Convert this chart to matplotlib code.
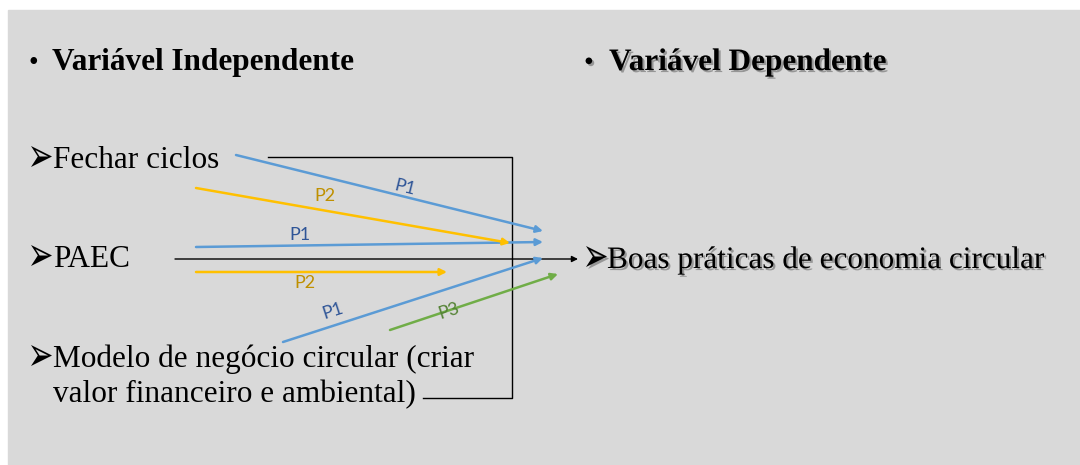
import matplotlib
matplotlib.use('Agg')
import matplotlib.pyplot as plt
from matplotlib.patches import Rectangle, PathPatch
from matplotlib.textpath import TextPath
from matplotlib.font_manager import FontProperties
from matplotlib.transforms import Affine2D
import matplotlib.patheffects as pe

# ── Diagram content ───────────────────────────────────────
HEAD_LEFT   = 'Variável Independente'
HEAD_RIGHT  = 'Variável Dependente'
INDEP_VARS  = ['Fechar ciclos', 'PAEC',
               'Modelo de negócio circular (criar',
               'valor financeiro e ambiental)']
INDEP_MARK  = [True, True, True, False]
DEP_VAR     = 'Boas práticas de economia circular'

# arrows: (x0, y0, x1, y1) in pixel space of the 1080x465 slide
BLUE_ARROWS   = [(236, 155, 543, 231), (196, 247, 543, 242), (283, 342, 543, 258)]
YELLOW_ARROWS = [(196, 188, 510, 243), (196, 272, 447, 272)]
GREEN_ARROWS  = [(390, 330, 558, 274)]
MAIN_ARROW    = (175, 259, 578, 259)
BRACKET_X     = [268, 512, 512, 423]
BRACKET_Y     = [157, 157, 398, 398]

# path labels: (text, x, y, rotation)
BLUE_LABELS   = [('P1', 405, 188, -14), ('P1', 300, 235, 0), ('P1', 333, 311, 18)]
YELLOW_LABELS = [('P2', 325, 196, 0), ('P2', 305, 283, 0)]
GREEN_LABELS  = [('P3', 449, 311, 18)]

BG      = '#d9d9d9'
BLUE    = '#5b9bd5'
YELLOW  = '#ffc000'
GREEN   = '#70ad47'
BLUE_T  = '#2f5597'
YELLOW_T = '#bf9000'
GREEN_T = '#548235'

SERIF = ['Liberation Serif', 'DejaVu Sans']
SANS  = ['Lato', 'DejaVu Sans']
FS    = 22.5


def arrow(ax, seg, color, lw=1.8, ms=10):
    x0, y0, x1, y1 = seg
    ax.annotate('', xy=(x1, y1), xytext=(x0, y0),
                arrowprops=dict(arrowstyle='-|>', color=color, lw=lw,
                                mutation_scale=ms, shrinkA=0, shrinkB=0))


def marker(ax, x, y, w=21, h=21, **kw):
    # Wingdings-like arrowhead bullet, stretched into a w x h box
    tp = TextPath((0, 0), '➢', size=1, prop=FontProperties(family='DejaVu Sans'))
    ext = tp.get_extents()
    tr = (Affine2D().translate(-ext.x0, -ext.y0)
          .scale(w / ext.width, -h / ext.height).translate(x, y))
    ax.add_patch(PathPatch(tr.transform_path(tp), color='black', lw=0, **kw))


def main():
    fig = plt.figure(figsize=(10.8, 4.65), dpi=100)
    ax = fig.add_axes([0, 0, 1, 1])
    ax.set_xlim(0, 1080)
    ax.set_ylim(465, 0)
    ax.axis('off')
    fig.patch.set_facecolor('white')

    ax.add_patch(Rectangle((8, 10), 1072, 455, color=BG, zorder=0))

    shadow = [pe.withSimplePatchShadow(offset=(1.5, -1.5),
                                       shadow_rgbFace='#555555', alpha=0.5)]

    # headings
    ax.text(28, 70, '•', family=SERIF, fontsize=20, va='baseline')
    ax.text(52, 70, HEAD_LEFT, family=SERIF, fontsize=FS, fontweight='bold',
            va='baseline')
    ax.text(584, 70, '•', family=SERIF, fontsize=20, va='baseline',
            path_effects=shadow)
    ax.text(609, 70, HEAD_RIGHT, family=SERIF, fontsize=FS, fontweight='bold',
            va='baseline', path_effects=shadow)

    # independent variables
    ys = [168, 267, 367, 402]
    for txt, y, mk in zip(INDEP_VARS, ys, INDEP_MARK):
        if mk:
            marker(ax, 31, y - 1)
        ax.text(53, y, txt, family=SERIF, fontsize=FS, va='baseline')

    # dependent variable
    marker(ax, 586, 267, path_effects=shadow)
    ax.text(607, 268, DEP_VAR, family=SERIF, fontsize=FS, va='baseline',
            path_effects=shadow)

    # bracket and main arrow
    ax.plot(BRACKET_X, BRACKET_Y, color='black', lw=1.0)
    arrow(ax, MAIN_ARROW, 'black', lw=1.0, ms=9)

    for seg in BLUE_ARROWS:
        arrow(ax, seg, BLUE)
    for seg in YELLOW_ARROWS:
        arrow(ax, seg, YELLOW)
    for seg in GREEN_ARROWS:
        arrow(ax, seg, GREEN)

    for labels, col in [(BLUE_LABELS, BLUE_T), (YELLOW_LABELS, YELLOW_T),
                        (GREEN_LABELS, GREEN_T)]:
        for txt, x, y, rot in labels:
            ax.text(x, y, txt, family=SANS, fontsize=13, color=col,
                    ha='center', va='center', rotation=rot,
                    rotation_mode='anchor')

    fig.savefig('out.png', dpi=100, facecolor='white')


if __name__ == '__main__':
    main()
